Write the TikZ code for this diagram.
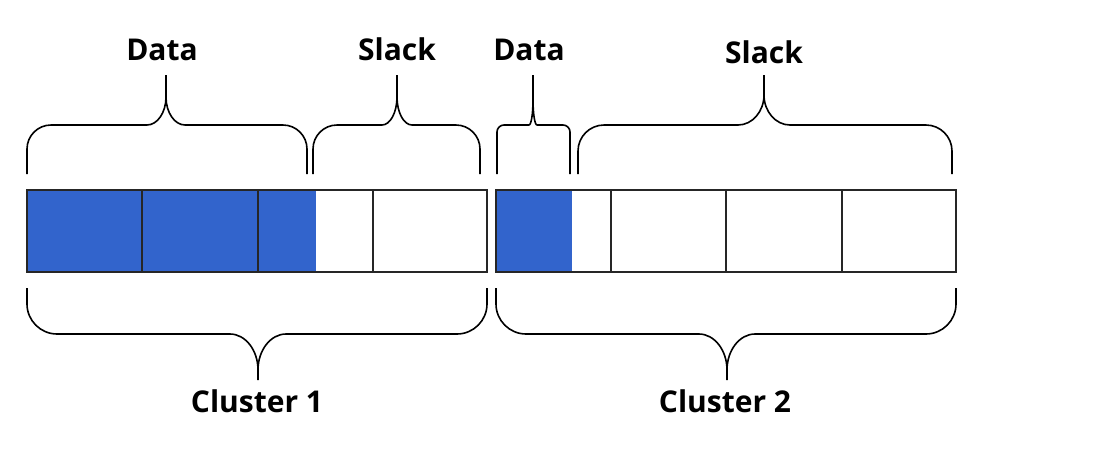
\documentclass[tikz,border=0pt]{standalone}
\usepackage{fontspec}
\setmainfont{Open Sans}
\definecolor{datablue}{RGB}{50,100,204}
\newcommand{\curlybrace}[9]{%
  % #1 xl, #2 xr, #3 xt, #4 y at ends, #5 y of bar, #6 y of tip, #7 corner, #8 tip width, #9 tip height
  \pgfmathsetmacro{\bs}{sign(#4-#5)}%
  \draw[bracestyle] (#1,#4) -- (#1,{#5+#7*\bs})
    .. controls (#1,{#5+0.45*#7*\bs}) and ({#1+0.45*#7},#5) .. ({#1+#7},#5)
    -- ({#3-#8},#5)
    .. controls ({#3-0.45*#8},#5) and (#3,{#5-0.45*#9*\bs}) .. (#3,{#5-#9*\bs})
    -- (#3,#6)
    (#3,{#5-#9*\bs})
    .. controls (#3,{#5-0.45*#9*\bs}) and ({#3+0.45*#8},#5) .. ({#3+#8},#5)
    -- ({#2-#7},#5)
    .. controls ({#2-0.45*#7},#5) and (#2,{#5+0.45*#7*\bs}) .. (#2,{#5+#7*\bs})
    -- (#2,#4);%
}
\tikzset{
  bracestyle/.style={line width=1.6pt, black, line join=round},
  cell/.style={draw=black!85, line width=1.8pt},
  lbl/.style={font=\fontsize{30}{36}\selectfont\bfseries, anchor=base, inner sep=0pt},
}
\begin{document}
\begin{tikzpicture}[x=1pt,y=-1pt]
\useasboundingbox[fill=white] (0,0) rectangle (1101,451);
% blue fills
\fill[datablue] (27,190) rectangle (316,272);
\fill[datablue] (496,190) rectangle (572,272);
% cells cluster 1
\draw[cell] (27,190) rectangle (142,272);
\draw[cell] (142,190) rectangle (258,272);
\draw[cell] (258,190) rectangle (373,272);
\draw[cell] (373,190) rectangle (487,272);
% cells cluster 2
\draw[cell] (496,190) rectangle (611,272);
\draw[cell] (611,190) rectangle (726,272);
\draw[cell] (726,190) rectangle (842,272);
\draw[cell] (842,190) rectangle (956,272);
% top braces
\curlybrace{27}{307}{166}{174}{125}{75}{24}{19}{28}
\curlybrace{313}{480}{397}{174}{125}{75}{24}{15}{28}
\curlybrace{497}{570}{533}{174}{125}{75}{7}{4}{25}
\curlybrace{578}{952}{764}{174}{125}{75}{26}{26}{30}
% bottom braces
\curlybrace{27}{487}{258}{288}{334}{380}{30}{28}{36}
\curlybrace{496}{956}{727}{288}{334}{380}{30}{28}{36}
% labels
\node[lbl] (d1) at (162,60) {Data};
\node[lbl] (s1) at (397,60) {Slack};
\node[lbl] (d2) at (529,60) {Data};
\node[lbl] (s2) at (764,63) {Slack};
\node[lbl] (c1) at (257,412) {Cluster 1};
\node[lbl] (c2) at (725,412) {Cluster 2};
\end{tikzpicture}
\end{document}
